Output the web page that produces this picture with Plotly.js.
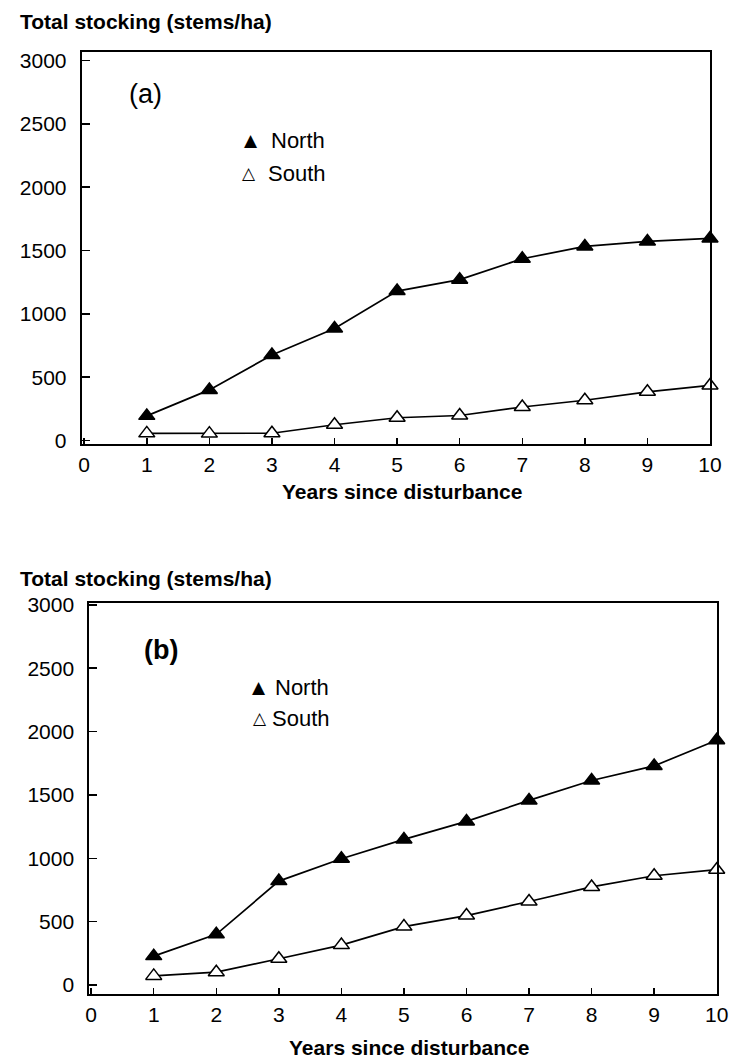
<!DOCTYPE html>
<html>
<head>
<meta charset="utf-8">
<script src="https://cdn.plot.ly/plotly-3.0.1.min.js"></script>
<style>html,body{margin:0;padding:0;background:#fff;}#chart{width:742px;height:1062px;}</style>
</head>
<body>
<div id="chart"></div>
<script>
// ---- data ----
var years = [1, 2, 3, 4, 5, 6, 7, 8, 9, 10];
var xTickVals = [0, 1, 2, 3, 4, 5, 6, 7, 8, 9, 10];
var yTickVals = [0, 500, 1000, 1500, 2000, 2500, 3000];
var northA = [195, 400, 675, 885, 1180, 1270, 1435, 1532, 1572, 1595];
var southA = [57, 55, 58, 125, 180, 198, 265, 318, 385, 435];
var northB = [228, 400, 820, 996, 1149, 1291, 1457, 1614, 1729, 1932];
var southB = [72, 101, 207, 315, 461, 548, 659, 774, 862, 910];
var seriesNames = ["North", "South"];
var yTitle = "Total stocking (stems/ha)";
var xTitle = "Years since disturbance";
var panelLabels = ["(a)", "(b)"];

var FONT = '"Liberation Sans", Arial, Helvetica, sans-serif';
var W = 742, H = 1062;
function px(x) { return x / W; }
function py(y) { return 1 - y / H; }

function lineTrace(y, filled, xa, ya, name) {
  return {
    x: years, y: y, xaxis: xa, yaxis: ya, name: name,
    type: 'scatter', mode: 'lines+markers', cliponaxis: false, showlegend: false,
    line: {color: '#000', width: 1.7},
    marker: {symbol: 'triangle-up', size: 14, color: filled ? '#000' : '#fff',
             line: {color: '#000', width: 1.5}}
  };
}

var traces = [
  lineTrace(northA, true, 'x', 'y', seriesNames[0]),
  lineTrace(southA, false, 'x', 'y', seriesNames[1]),
  lineTrace(northB, true, 'x2', 'y2', seriesNames[0]),
  lineTrace(southB, false, 'x2', 'y2', seriesNames[1])
];

function xAxis(domain, range, anchor) {
  return {
    domain: domain, range: range, anchor: anchor,
    tickmode: 'array', tickvals: xTickVals, ticktext: xTickVals.map(String),
    ticks: 'inside', ticklen: 6, tickwidth: 1.5, tickcolor: '#000',
    showline: true, linecolor: '#000', linewidth: 2, mirror: true,
    showgrid: false, zeroline: false, fixedrange: true,
    ticklabelstandoff: 1,
    tickfont: {family: FONT, size: 21, color: '#000'}
  };
}
function yAxis(domain, range, anchor) {
  return {
    domain: domain, range: range, anchor: anchor,
    tickmode: 'array', tickvals: yTickVals, ticktext: yTickVals.map(String),
    ticks: 'inside', ticklen: 8, tickwidth: 1.5, tickcolor: '#000',
    showline: true, linecolor: '#000', linewidth: 2, mirror: true,
    showgrid: false, zeroline: false, fixedrange: true,
    ticklabelstandoff: 9,
    tickfont: {family: FONT, size: 21, color: '#000'}
  };
}

function ann(text, x, y, size, bold, xanchor) {
  return {
    text: bold ? '<b>' + text + '</b>' : text,
    xref: 'paper', yref: 'paper', x: px(x), y: py(y),
    xanchor: xanchor || 'left', yanchor: 'middle', showarrow: false,
    font: {family: FONT, size: size, color: '#000'}
  };
}
function glyph(ch, x, y) {
  return {
    text: ch, xref: 'paper', yref: 'paper', x: px(x), y: py(y),
    xanchor: 'center', yanchor: 'middle', showarrow: false,
    font: {family: 'DejaVu Sans, sans-serif', size: 17, color: '#000'}
  };
}

var layout = {
  width: W, height: H,
  margin: {l: 0, r: 0, t: 0, b: 0, pad: 0},
  paper_bgcolor: '#fff', plot_bgcolor: '#fff',
  showlegend: false,
  xaxis: xAxis([px(81.7), px(710)], [-0.04, 10.0], 'y'),
  yaxis: yAxis([py(444), py(51.7)], [-27, 3069], 'x'),
  xaxis2: xAxis([px(89.3), px(716.7)], [-0.03, 10.0], 'y2'),
  yaxis2: yAxis([py(994), py(602.7)], [-71, 3017], 'x2'),
  annotations: [
    ann(yTitle, 18, 22, 21, true),
    ann(yTitle, 18, 578, 21, true),
    ann(xTitle, 402, 492, 21, true, 'center'),
    ann(xTitle, 409, 1047, 21, true, 'center'),
    ann(panelLabels[0], 127, 94, 27, false),
    ann(panelLabels[1], 142, 650, 27, true),
    glyph('\u25B2', 251, 140), ann(seriesNames[0], 269, 140, 22, false),
    glyph('\u25B3', 249, 173), ann(seriesNames[1], 266, 173, 22, false),
    glyph('\u25B2', 259, 687), ann(seriesNames[0], 273, 687, 22, false),
    glyph('\u25B3', 260, 718), ann(seriesNames[1], 270, 718, 22, false)
  ]
};

Plotly.newPlot('chart', traces, layout, {staticPlot: true, displayModeBar: false});
</script>
</body>
</html>
